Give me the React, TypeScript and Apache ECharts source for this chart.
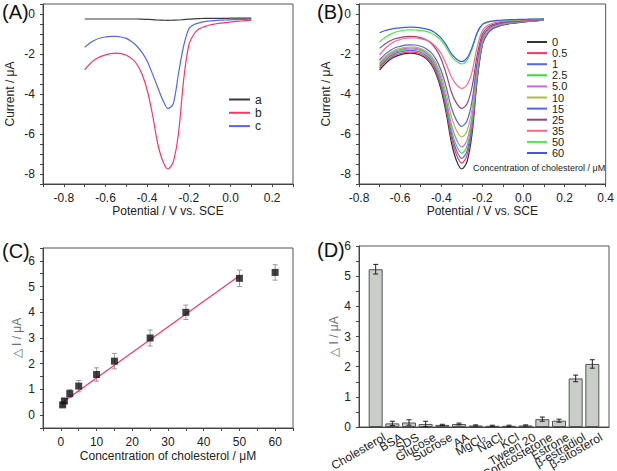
import React, { useEffect, useRef } from "react";
import * as echarts from "echarts";

const FONT = "'Liberation Sans', Arial, sans-serif";

// Panel A / B: potential grid (V vs. SCE), step 0.025 V
const potential = [-0.7, -0.675, -0.65, -0.625, -0.6, -0.575, -0.55, -0.525, -0.5, -0.475, -0.45, -0.425, -0.4, -0.375, -0.35, -0.325, -0.3, -0.275, -0.25, -0.225, -0.2, -0.175, -0.15, -0.125, -0.1, -0.075, -0.05, -0.025, 0, 0.025, 0.05, 0.075, 0.1];

// Panel A curves
const curveA_a = [-0.25, -0.25, -0.25, -0.25, -0.25, -0.25, -0.25, -0.25, -0.25, -0.25, -0.25, -0.26, -0.27, -0.28, -0.3, -0.31, -0.32, -0.31, -0.3, -0.28, -0.26, -0.24, -0.23, -0.22, -0.22, -0.22, -0.22, -0.22, -0.21, -0.21, -0.21, -0.21, -0.21];
const curveA_b = [-2.79, -2.5, -2.28, -2.13, -2.04, -1.98, -1.96, -1.98, -2.06, -2.22, -2.5, -3.0, -3.8, -5.0, -6.45, -7.35, -7.75, -7.4, -6.0, -3.3, -1.55, -1.0, -0.74, -0.63, -0.55, -0.5, -0.46, -0.43, -0.4, -0.37, -0.35, -0.33, -0.31];
const curveA_c = [-1.67, -1.45, -1.3, -1.2, -1.15, -1.12, -1.12, -1.15, -1.22, -1.38, -1.6, -1.92, -2.35, -2.98, -3.65, -4.3, -4.73, -4.5, -3.0, -1.6, -0.75, -0.53, -0.44, -0.38, -0.35, -0.33, -0.31, -0.3, -0.29, -0.28, -0.27, -0.265, -0.26];
const namesA = ["a", "b", "c"];
const colorsA = ["#3a3a3a", "#ff3366", "#5566ee"];

// Panel B curves (cholesterol concentration, µM)
const concLabels = ["0", "0.5", "1", "2.5", "5.0", "10", "15", "25", "35", "50", "60"];
const colorsB = ["#333333", "#ff3366", "#5566ee", "#33dd33", "#cc66ee", "#aabb44", "#5566dd", "#994477", "#ff6688", "#44ee44", "#4455ee"];
const curveB0 = [-2.8, -2.51, -2.29, -2.13, -2.04, -1.98, -1.96, -1.98, -2.06, -2.22, -2.5, -3.0, -3.8, -5.0, -6.45, -7.35, -7.75, -7.4, -6.0, -3.3, -1.55, -1.0, -0.74, -0.63, -0.55, -0.5, -0.46, -0.43, -0.4, -0.37, -0.35, -0.33, -0.31];
const curveB05 = [-2.7, -2.42, -2.21, -2.06, -1.98, -1.92, -1.9, -1.92, -1.99, -2.15, -2.42, -2.9, -3.66, -4.81, -6.2, -7.06, -7.45, -7.09, -5.73, -3.16, -1.49, -0.96, -0.71, -0.61, -0.53, -0.48, -0.44, -0.41, -0.39, -0.36, -0.34, -0.32, -0.3];
const curveB1 = [-2.62, -2.34, -2.13, -1.98, -1.9, -1.84, -1.82, -1.84, -1.91, -2.06, -2.32, -2.79, -3.54, -4.66, -6.0, -6.84, -7.22, -6.87, -5.56, -3.07, -1.46, -0.94, -0.7, -0.6, -0.52, -0.47, -0.44, -0.41, -0.38, -0.36, -0.34, -0.32, -0.3];
const curveB25 = [-2.56, -2.28, -2.07, -1.91, -1.83, -1.77, -1.75, -1.77, -1.84, -1.98, -2.23, -2.69, -3.41, -4.49, -5.79, -6.6, -6.96, -6.63, -5.36, -2.96, -1.4, -0.91, -0.68, -0.58, -0.5, -0.46, -0.42, -0.4, -0.37, -0.35, -0.33, -0.31, -0.29];
const curveB5 = [-2.5, -2.22, -2.01, -1.86, -1.78, -1.72, -1.7, -1.71, -1.78, -1.92, -2.16, -2.59, -3.27, -4.3, -5.54, -6.3, -6.65, -6.33, -5.12, -2.83, -1.35, -0.88, -0.66, -0.56, -0.49, -0.45, -0.42, -0.39, -0.37, -0.35, -0.33, -0.31, -0.29];
const curveB10 = [-2.42, -2.15, -1.95, -1.8, -1.73, -1.67, -1.65, -1.66, -1.73, -1.85, -2.07, -2.46, -3.08, -4.01, -5.14, -5.84, -6.15, -5.86, -4.74, -2.63, -1.26, -0.83, -0.62, -0.53, -0.47, -0.43, -0.4, -0.37, -0.35, -0.33, -0.32, -0.3, -0.28];
const curveB15 = [-2.3, -2.03, -1.84, -1.69, -1.62, -1.56, -1.54, -1.55, -1.61, -1.72, -1.92, -2.27, -2.84, -3.68, -4.7, -5.33, -5.62, -5.35, -4.34, -2.42, -1.17, -0.78, -0.59, -0.51, -0.45, -0.41, -0.39, -0.37, -0.34, -0.33, -0.31, -0.3, -0.28];
const curveB25b = [-1.72, -1.51, -1.35, -1.24, -1.18, -1.13, -1.12, -1.13, -1.18, -1.28, -1.45, -1.77, -2.26, -3.01, -3.91, -4.47, -4.72, -4.5, -3.65, -2.05, -1.01, -0.68, -0.53, -0.46, -0.41, -0.38, -0.36, -0.34, -0.32, -0.31, -0.3, -0.28, -0.27];
const curveB35 = [-2.05, -1.75, -1.53, -1.36, -1.28, -1.21, -1.19, -1.2, -1.23, -1.3, -1.43, -1.65, -1.99, -2.52, -3.15, -3.54, -3.72, -3.55, -2.89, -1.64, -0.84, -0.58, -0.46, -0.41, -0.37, -0.35, -0.33, -0.32, -0.3, -0.29, -0.28, -0.27, -0.26];
const curveB50 = [-1.4, -1.19, -1.03, -0.91, -0.85, -0.8, -0.79, -0.8, -0.82, -0.87, -0.95, -1.1, -1.33, -1.69, -2.12, -2.38, -2.5, -2.32, -1.76, -0.97, -0.54, -0.42, -0.36, -0.34, -0.32, -0.3, -0.29, -0.29, -0.28, -0.27, -0.26, -0.26, -0.25];
const curveB60 = [-0.94, -0.84, -0.77, -0.72, -0.69, -0.67, -0.66, -0.67, -0.69, -0.74, -0.82, -0.97, -1.21, -1.56, -1.99, -2.26, -2.38, -2.21, -1.67, -0.92, -0.52, -0.4, -0.35, -0.32, -0.3, -0.29, -0.28, -0.27, -0.27, -0.26, -0.25, -0.25, -0.24];
const curvesB = [curveB0, curveB05, curveB1, curveB25, curveB5, curveB10, curveB15, curveB25b, curveB35, curveB50, curveB60];

// Panel C calibration
const concC = [0.5, 1, 2.5, 5, 10, 15, 25, 35, 50, 60];
const deltaIC = [0.4, 0.55, 0.84, 1.13, 1.58, 2.1, 3.0, 4.0, 5.32, 5.55];
const errC = [0.07, 0.1, 0.15, 0.22, 0.26, 0.3, 0.31, 0.28, 0.32, 0.3];
const fitX = [0.5, 50];
const fitY = [0.5, 5.42];

// Panel D selectivity
const interferents = ["Cholesterol", "BSA", "SDS", "Glucose", "Sucrose", "AA", "MgCl₂", "NaCl", "KCl", "Tween 20", "Corticosterone", "Estrone", "β-estradiol", "β-sitosterol"];
const deltaID = [5.23, 0.12, 0.15, 0.1, 0.07, 0.1, 0.05, 0.04, 0.04, 0.05, 0.26, 0.21, 1.61, 2.09];
const errD = [0.16, 0.07, 0.09, 0.09, 0.02, 0.03, 0.02, 0.02, 0.02, 0.02, 0.07, 0.05, 0.11, 0.14];

const axisCommon = {
  axisLine: { show: true, onZero: false, lineStyle: { color: "#444", width: 1 } },
  axisTick: { show: true, inside: false, length: 3, lineStyle: { color: "#444" } },
  splitLine: { show: false },
  axisLabel: { color: "#222", fontSize: 12, fontFamily: FONT },
  nameTextStyle: { color: "#222", fontSize: 12, fontFamily: FONT },
};

function errRender(color: string, hw: number) {
  return (params: any, api: any) => {
    const x = api.value(0);
    const y = api.value(1);
    const e = api.value(2);
    const t = api.coord([x, y + e]);
    const b = api.coord([x, y - e]);
    const style = { stroke: color, lineWidth: 1 };
    return {
      type: "group",
      children: [
        { type: "line", shape: { x1: t[0], y1: t[1], x2: b[0], y2: b[1] }, style },
        { type: "line", shape: { x1: t[0] - hw, y1: t[1], x2: t[0] + hw, y2: t[1] }, style },
        { type: "line", shape: { x1: b[0] - hw, y1: b[1], x2: b[0] + hw, y2: b[1] }, style },
      ],
    };
  };
}

const evenTenth = (v: number) => (Math.abs(Math.round(v * 10)) % 2 === 0 ? (Math.round(v * 10) / 10).toFixed(1) : "");
const evenInt = (v: number) => (Math.abs(v - Math.round(v)) < 1e-6 && Math.round(v) % 2 === 0 ? String(Math.round(v)) : "");
const wholeInt = (v: number) => (Math.abs(v - Math.round(v)) < 1e-6 ? String(Math.round(v)) : "");

export default function App() {
  const ref = useRef<HTMLDivElement>(null);
  useEffect(() => {
    if (!ref.current) return;
    const chart = echarts.init(ref.current, null, { renderer: "svg" });
    const gridBase = { show: true, borderColor: "#555", borderWidth: 1, backgroundColor: "transparent" };
    const lineSeries = (name: string, ys: number[], color: string, xi: number) => ({
      name,
      type: "line",
      xAxisIndex: xi,
      yAxisIndex: xi,
      data: potential.map((x, i) => [x, ys[i]]),
      smooth: 0.3,
      symbol: "none",
      lineStyle: { color, width: 1.2 },
      itemStyle: { color },
    });
    const series: any[] = [];
    [curveA_a, curveA_b, curveA_c].forEach((c, i) => series.push(lineSeries(namesA[i], c, colorsA[i], 0)));
    curvesB.forEach((c, i) => series.push(lineSeries(concLabels[i], c, colorsB[i], 1)));
    series.push({
      type: "custom",
      xAxisIndex: 2,
      yAxisIndex: 2,
      renderItem: errRender("#9a9a9a", 2.5),
      data: concC.map((x, i) => [x, deltaIC[i], errC[i]]),
      encode: { x: 0, y: 1 },
      z: 2,
    });
    series.push({
      type: "line",
      xAxisIndex: 2,
      yAxisIndex: 2,
      data: fitX.map((x, i) => [x, fitY[i]]),
      symbol: "none",
      lineStyle: { color: "#ff3366", width: 1.2 },
      z: 3,
    });
    series.push({
      type: "scatter",
      xAxisIndex: 2,
      yAxisIndex: 2,
      data: concC.map((x, i) => [x, deltaIC[i]]),
      symbol: "rect",
      symbolSize: 7,
      itemStyle: { color: "#111" },
      z: 4,
    });
    series.push({
      type: "bar",
      xAxisIndex: 3,
      yAxisIndex: 3,
      data: interferents.map((_, i) => [i + 1, deltaID[i]]),
      barWidth: 14,
      itemStyle: { color: "#c8cdc8", borderColor: "#555", borderWidth: 1 },
      z: 2,
    });
    series.push({
      type: "custom",
      xAxisIndex: 3,
      yAxisIndex: 3,
      renderItem: errRender("#222", 2.5),
      data: interferents.map((_, i) => [i + 1, deltaID[i], errD[i]]),
      encode: { x: 0, y: 1 },
      z: 5,
    });
    // category labels of panel D, rotated, placed at each bar through the axis scale
    series.push({
      type: "custom",
      xAxisIndex: 3,
      yAxisIndex: 3,
      clip: false,
      silent: true,
      data: interferents.map((_, i) => [i + 1, 0]),
      encode: { x: 0, y: 1 },
      renderItem: (params: any, api: any) => {
        const p = api.coord([api.value(0), api.value(1)]);
        return {
          type: "text",
          x: p[0] + 6,
          y: p[1] + 4,
          rotation: Math.PI / 6,
          style: {
            text: interferents[params.dataIndex],
            align: "right",
            verticalAlign: "top",
            fontSize: 12,
            fontFamily: FONT,
            fill: "#222",
          },
        };
      },
      z: 6,
    });

    chart.setOption({
      animation: false,
      textStyle: { fontFamily: FONT },
      grid: [
        { ...gridBase, left: 43, top: 4, width: 250, height: 180 },
        { ...gridBase, left: 359, top: 4, width: 249, height: 180 },
        { ...gridBase, left: 43, top: 248, width: 250, height: 180 },
        { ...gridBase, left: 359, top: 246, width: 250, height: 181 },
      ],
      xAxis: [
        { ...axisCommon, type: "value", gridIndex: 0, min: -0.9, max: 0.3, interval: 0.1, axisLabel: { ...axisCommon.axisLabel, formatter: evenTenth }, name: "Potential / V vs. SCE", nameLocation: "middle", nameGap: 21 },
        { ...axisCommon, type: "value", gridIndex: 1, min: -0.8, max: 0.4, interval: 0.1, axisLabel: { ...axisCommon.axisLabel, formatter: evenTenth }, name: "Potential / V vs. SCE", nameLocation: "middle", nameGap: 21 },
        { ...axisCommon, type: "value", gridIndex: 2, min: -5, max: 65, interval: 5, axisLabel: { ...axisCommon.axisLabel, formatter: (v: number) => (Math.round(v) % 10 === 0 ? String(Math.round(v)) : "") }, name: "Concentration of cholesterol / μM", nameLocation: "middle", nameGap: 22 },
        { ...axisCommon, type: "value", gridIndex: 3, min: 0, max: 15, interval: 1, axisTick: { ...axisCommon.axisTick, show: false }, axisLabel: { show: false } },
      ],
      yAxis: [
        { ...axisCommon, type: "value", gridIndex: 0, min: -8.5, max: 0.5, interval: 0.5, axisLabel: { ...axisCommon.axisLabel, formatter: evenInt }, name: "Current / μA", nameLocation: "middle", nameGap: 27 },
        { ...axisCommon, type: "value", gridIndex: 1, min: -8.5, max: 0.5, interval: 0.5, axisLabel: { ...axisCommon.axisLabel, formatter: evenInt }, name: "Current / μA", nameLocation: "middle", nameGap: 27 },
        { ...axisCommon, type: "value", gridIndex: 2, min: -0.5, max: 6.5, interval: 0.5, axisLabel: { ...axisCommon.axisLabel, formatter: wholeInt }, name: "△ I / μA", nameLocation: "middle", nameGap: 20, nameTextStyle: { ...axisCommon.nameTextStyle, color: "#6a7080" } },
        { ...axisCommon, type: "value", gridIndex: 3, min: 0, max: 6, interval: 0.5, axisLabel: { ...axisCommon.axisLabel, formatter: wholeInt }, name: "△ I / μA", nameLocation: "middle", nameGap: 12, nameTextStyle: { ...axisCommon.nameTextStyle, color: "#6a7080" } },
      ],
      legend: [
        { data: namesA, orient: "vertical", left: 229, top: 93, padding: 0, itemWidth: 21, itemHeight: 2, icon: "rect", itemGap: 0.3, selectedMode: false, textStyle: { fontSize: 12, lineHeight: 13, color: "#222", fontFamily: FONT } },
        { data: concLabels, orient: "vertical", left: 527, top: 36.5, padding: 0, itemWidth: 20, itemHeight: 2, icon: "rect", itemGap: 0.1, selectedMode: false, textStyle: { fontSize: 11, lineHeight: 11, color: "#222", fontFamily: FONT } },
      ],
      graphic: [
        { type: "text", left: 2, top: 2, style: { text: "(A)", fontSize: 20, fill: "#111", fontFamily: FONT } },
        { type: "text", left: 317, top: 2, style: { text: "(B)", fontSize: 20, fill: "#111", fontFamily: FONT } },
        { type: "text", left: 2, top: 241, style: { text: "(C)", fontSize: 20, fill: "#111", fontFamily: FONT } },
        { type: "text", left: 317, top: 240, style: { text: "(D)", fontSize: 20, fill: "#111", fontFamily: FONT } },
        { type: "text", left: 473, top: 163, style: { text: "Concentration of cholesterol / μM", fontSize: 9, fill: "#222", fontFamily: FONT } },
      ],
      series,
    });
    return () => chart.dispose();
  }, []);
  return <div ref={ref} style={{ position: "fixed", left: 0, top: 0, width: 617, height: 471, background: "#fff" }} />;
}
